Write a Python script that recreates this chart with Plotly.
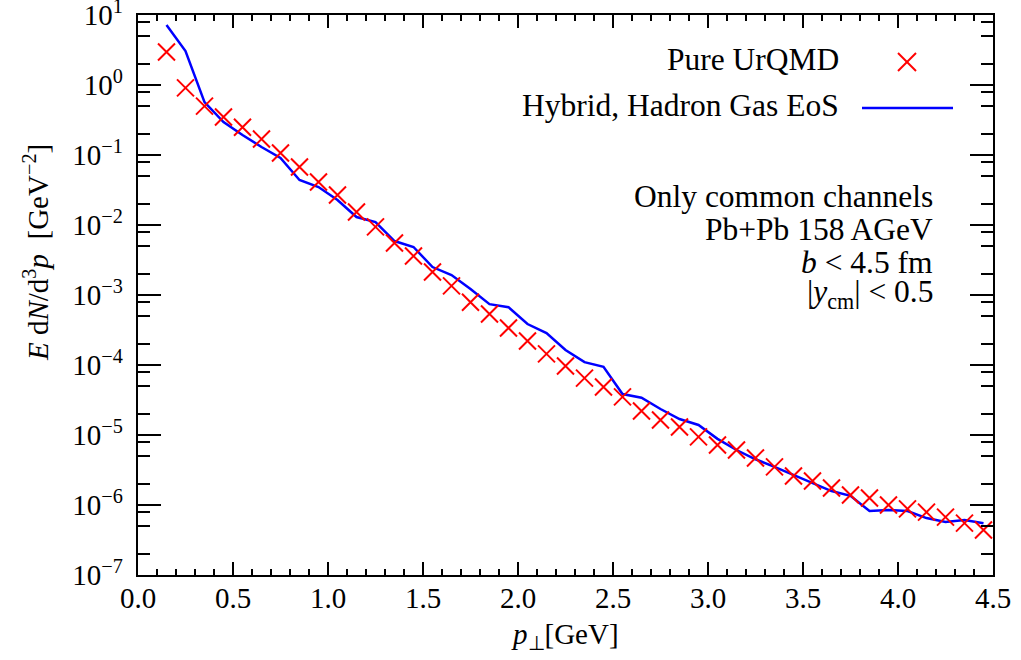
import plotly.graph_objects as go

# p_T bin centres [GeV]
pt = [0.15, 0.25, 0.35, 0.45, 0.55, 0.65, 0.75, 0.85, 0.95, 1.05,
      1.15, 1.25, 1.35, 1.45, 1.55, 1.65, 1.75, 1.85, 1.95, 2.05,
      2.15, 2.25, 2.35, 2.45, 2.55, 2.65, 2.75, 2.85, 2.95, 3.05,
      3.15, 3.25, 3.35, 3.45, 3.55, 3.65, 3.75, 3.85, 3.95, 4.05,
      4.15, 4.25, 4.35, 4.45]

# Pure UrQMD (red crosses)
urqmd = [2.96, 0.91, 0.50, 0.35, 0.25, 0.169, 0.107, 0.0674, 0.0411, 0.0268,
         0.0153, 0.0094, 0.00553, 0.0036, 0.00213, 0.00135, 0.00079, 0.000535, 0.000338, 0.00022,
         0.000144, 9.7e-5, 6.5e-5, 4.85e-5, 3.5e-5, 2.2e-5, 1.64e-5, 1.3e-5, 9.4e-6, 7.2e-6,
         6.1e-6, 4.7e-6, 3.5e-6, 2.6e-6, 2.2e-6, 1.75e-6, 1.39e-6, 1.26e-6, 1.0e-6, 8.8e-7,
         7.9e-7, 6.7e-7, 5.5e-7, 4.4e-7]

# Hybrid, Hadron Gas EoS (blue line)
hybrid = [7.2, 3.06, 0.57, 0.296, 0.193, 0.13, 0.0906, 0.044, 0.0349, 0.0228,
          0.013, 0.011, 0.0059, 0.00485, 0.00251, 0.00193, 0.00122, 0.00074, 0.00067, 0.000385,
          0.000286, 0.000164, 0.00011, 9.4e-5, 3.85e-5, 3.4e-5, 2.35e-5, 1.69e-5, 1.39e-5, 8.8e-6,
          6.1e-6, 4.5e-6, 3.5e-6, 2.7e-6, 2.06e-6, 1.58e-6, 1.35e-6, 8.2e-7, 8.5e-7, 8.2e-7,
          6.5e-7, 5.7e-7, 6.1e-7, 5.5e-7]

x_ticks = [0.0, 0.5, 1.0, 1.5, 2.0, 2.5, 3.0, 3.5, 4.0, 4.5]
x_ticktext = ["0.0", "0.5", "1.0", "1.5", "2.0", "2.5", "3.0", "3.5", "4.0", "4.5"]
y_exps = [-7, -6, -5, -4, -3, -2, -1, 0, 1]
y_ticks = [10.0 ** e for e in y_exps]
y_ticktext = ["10<sup>%s</sup>\u00a0" % (str(e).replace("-", "\u2212")) for e in y_exps]
y_minor = [m * 10.0 ** e for e in y_exps[:-1] for m in (2, 5, 8)]
x_minor = [i / 10 for i in range(0, 46)]

FONT = "Liberation Serif"
FS = 29
AFS = 31.5

fig = go.Figure()
fig.add_trace(go.Scatter(
    x=pt, y=hybrid, mode="lines", name="Hybrid, Hadron Gas EoS",
    line=dict(color="#0000ff", width=2.5), showlegend=False))
fig.add_trace(go.Scatter(
    x=pt, y=urqmd, mode="markers", name="Pure UrQMD",
    marker=dict(symbol="x-thin-open", size=17, color="#ff0000",
                line=dict(color="#ff0000", width=2)), showlegend=False))

W, H = 1021, 660
SL, SR, ST, SB = 138, 993, 15, 575          # plot area in screen pixels
L, T, R, B = SL, ST, W - SR, H - SB
PW, PH = SR - SL, SB - ST


def px(x):
    return (x - SL) / PW


def py(y):
    return (SB - y) / PH


fig.update_layout(
    width=W, height=H,
    margin=dict(l=L, r=R, t=T, b=B, autoexpand=False),
    plot_bgcolor="white", paper_bgcolor="white",
    font=dict(family=FONT, size=FS, color="black"),
    showlegend=False,
    xaxis=dict(range=[0, 4.5], tickvals=x_ticks, ticktext=x_ticktext,
               ticks="inside", ticklen=13, tickwidth=1.5, tickcolor="black",
               showline=True, linecolor="black", linewidth=2, mirror="allticks",
               showgrid=False, zeroline=False, automargin=False,
               ticklabeloverflow="allow", ticklabelstandoff=-4,
               tickfont=dict(family=FONT, size=FS),
               minor=dict(tickvals=x_minor, ticks="inside", ticklen=6,
                          tickwidth=1.5, tickcolor="black", showgrid=False)),
    yaxis=dict(type="log", range=[-7.0005, 1.0005], tickvals=y_ticks, ticktext=y_ticktext,
               ticks="inside", ticklen=23, tickwidth=1.5, tickcolor="black",
               showline=True, linecolor="black", linewidth=2, mirror="allticks",
               showgrid=False, zeroline=False, automargin=False,
               ticklabeloverflow="allow",
               tickfont=dict(family=FONT, size=FS),
               minor=dict(tickvals=y_minor, ticks="inside", ticklen=12,
                          tickwidth=1.5, tickcolor="black", showgrid=False)),
)

ann = []
# axis titles
ann.append(dict(text="<i>p</i><sub>\u22a5</sub>[GeV]", x=px(565), y=py(636),
                xref="paper", yref="paper", showarrow=False,
                xanchor="center", yanchor="middle", font=dict(size=FS)))
ann.append(dict(text="<i>E</i> d<i>N</i>/d<sup>3</sup><i>p</i>  [GeV<sup>\u22122</sup>]",
                x=px(36), y=py(253), xref="paper", yref="paper", showarrow=False,
                textangle=-90, xanchor="center", yanchor="middle", font=dict(size=FS)))
# legend texts
ann.append(dict(text="Pure UrQMD", x=px(841), y=py(59), xref="paper", yref="paper",
                showarrow=False, xanchor="right", yanchor="middle", font=dict(size=AFS)))
ann.append(dict(text="Hybrid, Hadron Gas EoS", x=px(841), y=py(106), xref="paper",
                yref="paper", showarrow=False, xanchor="right", yanchor="middle",
                font=dict(size=AFS)))
# info block
info = [("Only common channels", 197), ("Pb+Pb 158 AGeV", 229),
        ("<i>b</i> < 4.5 fm", 262), ("|<i>y</i><sub>cm</sub>| < 0.5", 294)]
for txt, yy in info:
    ann.append(dict(text=txt, x=px(935), y=py(yy), xref="paper", yref="paper",
                    showarrow=False, xanchor="right", yanchor="middle",
                    font=dict(size=AFS)))
fig.update_layout(annotations=ann)

# legend samples
shapes = [
    dict(type="line", xref="paper", yref="paper", x0=px(898), y0=py(53), x1=px(916), y1=py(71),
         line=dict(color="#ff0000", width=2)),
    dict(type="line", xref="paper", yref="paper", x0=px(898), y0=py(71), x1=px(916), y1=py(53),
         line=dict(color="#ff0000", width=2)),
    dict(type="line", xref="paper", yref="paper", x0=px(862), y0=py(108), x1=px(953), y1=py(108),
         line=dict(color="#0000ff", width=2.5)),
]
fig.update_layout(shapes=shapes)

# remove the default page margin so the figure fills the window exactly
fig.write_html("out.html",
               config={"displayModeBar": False},
               post_script="document.body.style.margin='0';document.body.style.overflow='hidden';")
